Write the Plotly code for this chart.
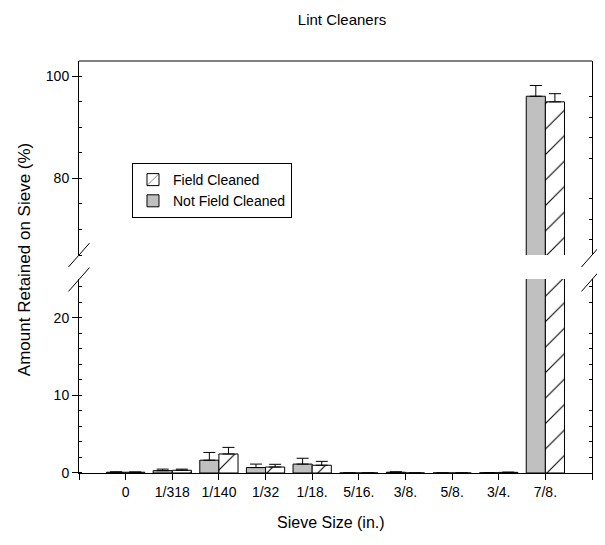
import plotly.graph_objects as go

# ---- data ----
categories = ["0", "1/318", "1/140", "1/32", "1/18.", "5/16.", "3/8.", "5/8.", "3/4.", "7/8."]
not_field_cleaned = [0.1, 0.3, 1.65, 0.7, 1.15, 0.0, 0.1, 0.0, 0.03, 96.1]
not_field_cleaned_err = [0.05, 0.2, 1.0, 0.45, 0.75, 0.0, 0.05, 0.0, 0.02, 2.1]
field_cleaned = [0.1, 0.35, 2.45, 0.77, 1.0, 0.0, 0.0, 0.0, 0.08, 95.0]
field_cleaned_err = [0.03, 0.15, 0.85, 0.35, 0.5, 0.0, 0.0, 0.0, 0.03, 1.6]

lower_range = [0, 25]
upper_range = [65, 103]
right_lower_ticks = [2, 4, 6, 8, 12, 14, 16, 18, 22, 24]
right_upper_ticks = [68, 72, 76, 84, 88, 92, 96]

xpos = list(range(len(categories)))
tickvals = [-1] + xpos + [len(categories)]
ticktext = [""] + categories + [""]

FONT = "Liberation Sans, Arial, sans-serif"

fig = go.Figure()

for yax, show in (("y", True), ("y2", False)):
    fig.add_trace(go.Bar(
        x=xpos, y=not_field_cleaned, yaxis=yax, name="Not Field Cleaned",
        marker=dict(color="#c0c0c0", line=dict(color="black", width=1)),
        error_y=dict(type="data", array=not_field_cleaned_err,
                     arrayminus=[0] * len(not_field_cleaned_err), symmetric=False,
                     color="black", thickness=1, width=6),
        showlegend=show, legendrank=2,
    ))
    fig.add_trace(go.Bar(
        x=xpos, y=field_cleaned, yaxis=yax, name="Field Cleaned",
        marker=dict(color="white", line=dict(color="black", width=1),
                    pattern=dict(shape="/", fgcolor="black", bgcolor="white",
                                 size=18, solidity=0.06, fillmode="replace")),
        error_y=dict(type="data", array=field_cleaned_err,
                     arrayminus=[0] * len(field_cleaned_err), symmetric=False,
                     color="black", thickness=1, width=6),
        showlegend=show, legendrank=1,
    ))

low_dom = [0, 0.4709]
up_dom = [0.529, 1]

axis_common = dict(showgrid=False, zeroline=False, showline=True, linecolor="black",
                   linewidth=1, color="black", tickfont=dict(family=FONT, size=14, color="black"))

W, H = 597, 537

fig.update_layout(
    width=W, height=H,
    margin=dict(l=71, r=13, t=53, b=72),
    paper_bgcolor="white", plot_bgcolor="white",
    barmode="group", bargap=0.18, bargroupgap=0,
    font=dict(family=FONT, size=14, color="black"),
    title=dict(text="Lint Cleaners", x=334 / W, xref="container", xanchor="center",
               y=1 - 12 / H, yref="container", yanchor="middle",
               font=dict(family=FONT, size=15, color="black")),
    xaxis=dict(range=[-1, len(categories)], tickmode="array", tickvals=tickvals,
               ticktext=ticktext, ticks="outside", ticklen=6, tickcolor="black",
               anchor="y", **axis_common),
    yaxis=dict(domain=low_dom, range=lower_range, tickmode="linear", tick0=0, dtick=10,
               ticks="outside", ticklen=6, tickcolor="black", mirror=True,
               minor=dict(ticks="inside", ticklen=3, dtick=2, tickcolor="black"),
               anchor="x", **axis_common),
    yaxis2=dict(domain=up_dom, range=upper_range, tickmode="linear", tick0=0, dtick=20,
                ticks="outside", ticklen=6, tickcolor="black", mirror=True,
                minor=dict(ticks="inside", ticklen=3, dtick=5, tickcolor="black"),
                anchor="x", **axis_common),
    yaxis3=dict(overlaying="y", side="right", anchor="x", range=lower_range,
                tickmode="array", tickvals=right_lower_ticks, ticks="inside", ticklen=3,
                tickcolor="black", showticklabels=False, showgrid=False, zeroline=False,
                showline=False),
    yaxis4=dict(overlaying="y2", side="right", anchor="x", range=upper_range,
                tickmode="array", tickvals=right_upper_ticks, ticks="inside", ticklen=3,
                tickcolor="black", showticklabels=False, showgrid=False, zeroline=False,
                showline=False),
    legend=dict(x=0.1033, y=0.7524, xanchor="left", yanchor="top",
                bgcolor="white", bordercolor="black", borderwidth=1,
                font=dict(family=FONT, size=14, color="black"),
                traceorder="normal", entrywidth=130, tracegroupgap=0),
)

# invisible traces to activate the right-hand tick axes
fig.add_trace(go.Scatter(x=[None], y=[None], yaxis="y3", showlegend=False, hoverinfo="skip"))
fig.add_trace(go.Scatter(x=[None], y=[None], yaxis="y4", showlegend=False, hoverinfo="skip"))

# axis titles
fig.add_annotation(text="Amount Retained on Sieve (%)", xref="paper", yref="paper",
                   x=-0.105, y=0.517, xanchor="center", yanchor="middle",
                   textangle=-90, showarrow=False,
                   font=dict(family=FONT, size=17, color="black"))
fig.add_annotation(text="Sieve Size (in.)", xref="paper", yref="paper",
                   x=0.492, y=-0.119, xanchor="center", yanchor="middle", showarrow=False,
                   font=dict(family=FONT, size=16, color="black"))

# frame: top border and axis-break marks
shapes = [dict(type="line", xref="paper", yref="paper", x0=0, x1=1, y0=1, y1=1,
               line=dict(color="black", width=1))]
for xc in (0.0, 1.0):
    for yc in (0.529, 0.4697):
        shapes.append(dict(type="line", xref="paper", yref="paper",
                           x0=xc - 0.0205, y0=yc - 0.029, x1=xc + 0.0205, y1=yc + 0.029,
                           line=dict(color="black", width=1)))
fig.update_layout(shapes=shapes)

fig.write_html("out.html")
